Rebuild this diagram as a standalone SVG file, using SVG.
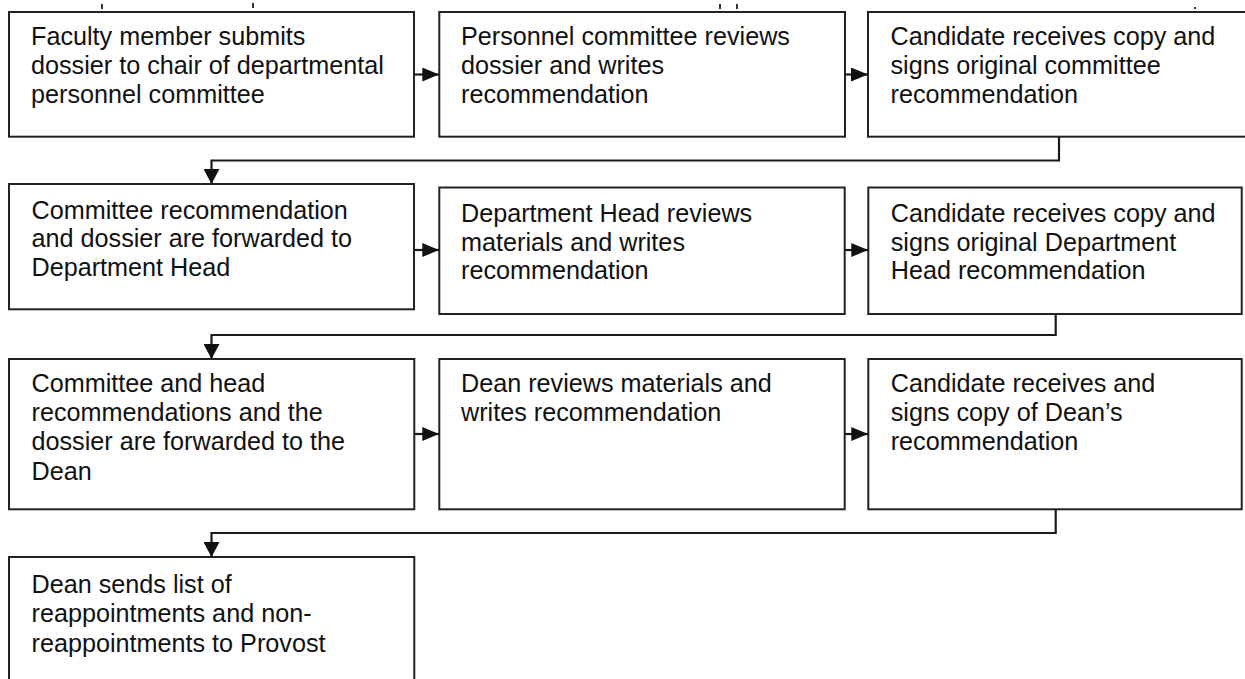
<svg xmlns="http://www.w3.org/2000/svg" width="1245" height="679" viewBox="0 0 1245 679">
  <defs>
    <style>
      .box { fill: #ffffff; stroke: #222222; stroke-width: 2; }
      .lbl { font-family: "Liberation Sans", Arial, sans-serif; font-size: 25.2px; fill: #111111; }
      .wire { fill: none; stroke: #1a1a1a; stroke-width: 2.2; }
      .tick { fill: #333333; }
    </style>
    <marker id="arrowR" markerUnits="userSpaceOnUse" markerWidth="17" markerHeight="14" refX="17" refY="7" orient="auto">
      <path d="M0,0 L17,7 L0,14 Z" fill="#111111"/>
    </marker>
    <marker id="arrowD" markerUnits="userSpaceOnUse" markerWidth="15" markerHeight="16" refX="15" refY="8" orient="auto">
      <path d="M0,0 L15,8 L0,16 Z" fill="#111111"/>
    </marker>
  </defs>

  <rect width="1245" height="679" fill="#ffffff"/>

  <!-- stray marks along the top edge -->
  <rect class="tick" x="101" y="4" width="2" height="5"/>
  <rect class="tick" x="252" y="3" width="2" height="5"/>
  <rect class="tick" x="719" y="4" width="2" height="5"/>
  <rect class="tick" x="736" y="4" width="2" height="5"/>
  <rect class="tick" x="1194" y="7" width="2" height="2"/>

  <!-- row 1 -->
  <g id="submit-dossier">
    <rect class="box" x="9" y="12" width="405" height="124.7"/>
    <text class="lbl" x="31" y="45">
      <tspan x="31">Faculty member submits</tspan>
      <tspan x="31" dy="29">dossier to chair of departmental</tspan>
      <tspan x="31" dy="29">personnel committee</tspan>
    </text>
  </g>
  <g id="committee-review">
    <rect class="box" x="439.3" y="12" width="405.7" height="124.7"/>
    <text class="lbl" x="461" y="45">
      <tspan x="461">Personnel committee reviews</tspan>
      <tspan x="461" dy="29">dossier and writes</tspan>
      <tspan x="461" dy="29">recommendation</tspan>
    </text>
  </g>
  <g id="sign-committee-rec">
    <rect class="box" x="868" y="12" width="390" height="124.7"/>
    <text class="lbl" x="890.5" y="45">
      <tspan x="890.5">Candidate receives copy and</tspan>
      <tspan x="890.5" dy="29">signs original committee</tspan>
      <tspan x="890.5" dy="29">recommendation</tspan>
    </text>
  </g>

  <!-- row 2 -->
  <g id="forward-to-head">
    <rect class="box" x="9" y="184" width="405" height="125.3"/>
    <text class="lbl" x="31.5" y="218.5">
      <tspan x="31.5">Committee recommendation</tspan>
      <tspan x="31.5" dy="28.7">and dossier are forwarded to</tspan>
      <tspan x="31.5" dy="28.7">Department Head</tspan>
    </text>
  </g>
  <g id="head-review">
    <rect class="box" x="439.3" y="187.5" width="405.4" height="126.5"/>
    <text class="lbl" x="461" y="221.7">
      <tspan x="461">Department Head reviews</tspan>
      <tspan x="461" dy="28.8">materials and writes</tspan>
      <tspan x="461" dy="28.8">recommendation</tspan>
    </text>
  </g>
  <g id="sign-head-rec">
    <rect class="box" x="868.3" y="187.5" width="373.4" height="126.5"/>
    <text class="lbl" x="890.7" y="221.7">
      <tspan x="890.7">Candidate receives copy and</tspan>
      <tspan x="890.7" dy="28.8">signs original Department</tspan>
      <tspan x="890.7" dy="28.8">Head recommendation</tspan>
    </text>
  </g>

  <!-- row 3 -->
  <g id="forward-to-dean">
    <rect class="box" x="9" y="359" width="405.3" height="150.3"/>
    <text class="lbl" x="31.5" y="392">
      <tspan x="31.5">Committee and head</tspan>
      <tspan x="31.5" dy="29.2">recommendations and the</tspan>
      <tspan x="31.5" dy="29.2">dossier are forwarded to the</tspan>
      <tspan x="31.5" dy="29.2">Dean</tspan>
    </text>
  </g>
  <g id="dean-review">
    <rect class="box" x="439.3" y="359" width="405.4" height="150.3"/>
    <text class="lbl" x="461" y="392.3">
      <tspan x="461">Dean reviews materials and</tspan>
      <tspan x="461" dy="28.8">writes recommendation</tspan>
    </text>
  </g>
  <g id="sign-dean-rec">
    <rect class="box" x="868.3" y="359" width="373.4" height="150.3"/>
    <text class="lbl" x="890.7" y="392.3">
      <tspan x="890.7">Candidate receives and</tspan>
      <tspan x="890.7" dy="28.6">signs copy of Dean’s</tspan>
      <tspan x="890.7" dy="28.6">recommendation</tspan>
    </text>
  </g>

  <!-- row 4 -->
  <g id="list-to-provost">
    <rect class="box" x="9" y="557" width="405.3" height="140"/>
    <text class="lbl" x="31.5" y="592.7">
      <tspan x="31.5">Dean sends list of</tspan>
      <tspan x="31.5" dy="29.5">reappointments and non-</tspan>
      <tspan x="31.5" dy="29.5">reappointments to Provost</tspan>
    </text>
  </g>

  <!-- connectors -->
  <g id="connectors">
    <line class="wire" x1="414" y1="74.5" x2="439.3" y2="74.5" marker-end="url(#arrowR)"/>
    <line class="wire" x1="845" y1="74.5" x2="868" y2="74.5" marker-end="url(#arrowR)"/>
    <polyline class="wire" points="1059,136.7 1059,160.5 211.5,160.5 211.5,184" marker-end="url(#arrowD)"/>

    <line class="wire" x1="414" y1="250" x2="439.3" y2="250" marker-end="url(#arrowR)"/>
    <line class="wire" x1="844.7" y1="250" x2="868.3" y2="250" marker-end="url(#arrowR)"/>
    <polyline class="wire" points="1055.7,314 1055.7,335 211.5,335 211.5,359" marker-end="url(#arrowD)"/>

    <line class="wire" x1="414.3" y1="434" x2="439.3" y2="434" marker-end="url(#arrowR)"/>
    <line class="wire" x1="844.7" y1="434" x2="868.3" y2="434" marker-end="url(#arrowR)"/>
    <polyline class="wire" points="1055.7,509.3 1055.7,533 211.5,533 211.5,557" marker-end="url(#arrowD)"/>
  </g>
</svg>
